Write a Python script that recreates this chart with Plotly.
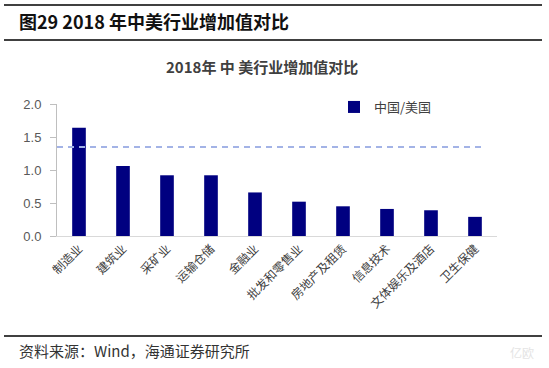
import plotly.graph_objects as go

# ---- data ----
categories = ["制造业", "建筑业", "采矿业", "运输仓储", "金融业", "批发和零售业",
              "房地产及租赁", "信息技术", "文体娱乐及酒店", "卫生保健"]
ratio_cn_us = [1.64, 1.06, 0.92, 0.92, 0.66, 0.52, 0.45, 0.41, 0.39, 0.29]
reference_level = 1.35
y_ticks = [0.0, 0.5, 1.0, 1.5, 2.0]
y_tick_labels = ["0.0", "0.5", "1.0", "1.5", "2.0"]
series_name = "中国/美国"
header_text = "图29 2018 年中美行业增加值对比"
chart_title = "2018年 中 美行业增加值对比"
source_text = "资料来源：Wind，海通证券研究所"

W, H = 549, 368
L, R, T, B = 57, 497, 104, 236  # plot area in window pixels
PW, PH = R - L, B - T


def px(x):
    return (x - L) / PW


def py(y):
    return (B - y) / PH


CJK = "Noto Sans CJK SC"

fig = go.Figure()
fig.add_trace(go.Bar(
    x=categories, y=ratio_cn_us, name=series_name,
    marker=dict(color="#000080", line=dict(width=0)),
    width=0.31,
))

fig.add_shape(type="line", xref="x", yref="y",
              x0=-0.5, x1=9.2, y0=reference_level, y1=reference_level,
              line=dict(color="#a3b3e6", width=2, dash="6px,5px"), layer="above")

# header / footer rules
for yy in (5, 40, 336):
    fig.add_shape(type="line", xref="paper", yref="paper",
                  x0=px(4), x1=px(542), y0=py(yy), y1=py(yy),
                  line=dict(color="#404040", width=2))
# top rule also as an arrow-less annotation line
fig.add_annotation(text="", xref="paper", yref="paper",
                   x=px(542), y=py(5), ax=-538, ay=0,
                   showarrow=True, arrowhead=0, arrowwidth=2,
                   arrowcolor="#404040", standoff=0, startstandoff=0)

fig.add_annotation(text=header_text, xref="paper", yref="paper",
                   x=px(17), y=py(21), xanchor="left", yanchor="middle",
                   showarrow=False,
                   font=dict(family=CJK, size=18, color="#111111", weight="bold"))
fig.add_annotation(text=chart_title, xref="paper", yref="paper",
                   x=px(262), y=py(66), xanchor="center", yanchor="middle",
                   showarrow=False,
                   font=dict(family=CJK, size=15, color="#404040", weight="bold"))
fig.add_annotation(text=source_text, xref="paper", yref="paper",
                   x=px(17), y=py(350), xanchor="left", yanchor="middle",
                   showarrow=False,
                   font=dict(family=CJK, size=15, color="#333333"))
fig.add_annotation(text="亿欧", xref="paper", yref="paper",
                   x=px(522), y=py(352), xanchor="center", yanchor="middle",
                   showarrow=False,
                   font=dict(family=CJK, size=12, color="#e4e4e4"))

fig.update_layout(
    width=W, height=H,
    margin=dict(l=L, r=W - R, t=T, b=H - B, pad=0),
    paper_bgcolor="white", plot_bgcolor="white",
    showlegend=True,
    legend=dict(x=px(334), y=py(92), xanchor="left", yanchor="top",
                font=dict(family=CJK, size=13, color="#404040"),
                bgcolor="rgba(0,0,0,0)", itemwidth=30),
)
fig.update_xaxes(
    type="category", tickangle=-45, showgrid=False, zeroline=False,
    showline=True, linecolor="#d9d9d9", linewidth=1, ticks="",
    tickfont=dict(family=CJK, size=12, color="#404040"),
    range=[-0.5, 9.5],
)
fig.update_yaxes(
    range=[0, 2], tickvals=y_ticks, ticktext=y_tick_labels,
    showgrid=False, zeroline=False, showline=True, linecolor="#bfbfbf",
    linewidth=1, ticks="outside", ticklen=6, tickcolor="#bfbfbf",
    tickfont=dict(family="Liberation Sans", size=13, color="#595959"),
    ticklabelstandoff=6,
)

fig.write_html("out.html",
               config={"displayModeBar": False},
               post_script="document.body.style.margin='0';")
